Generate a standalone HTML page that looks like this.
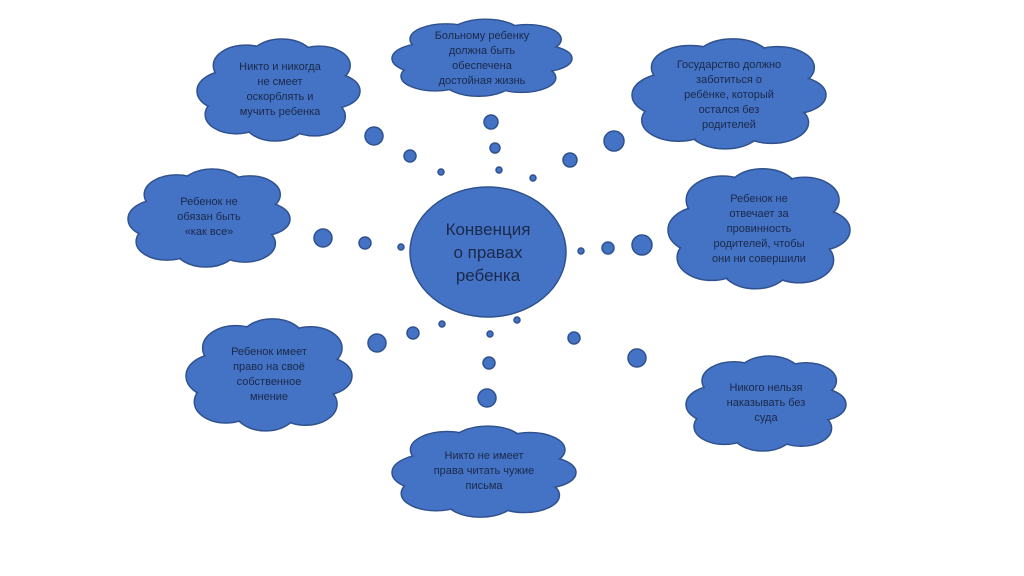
<!DOCTYPE html><html><head><meta charset="utf-8"><style>
body{margin:0;width:1024px;height:576px;background:#fff;position:relative;overflow:hidden;font-family:"Liberation Sans",sans-serif}
svg{position:absolute;left:0;top:0}
.t{position:absolute;text-align:center;color:#1a2a4a;font-size:11px;line-height:15px;display:flex;align-items:center;justify-content:center}
</style></head><body>
<svg width="1024" height="576">
<defs><g id="c">
<g fill="#4472C4" stroke="#2F528F" stroke-width="1.5" vector-effect="non-scaling-stroke">
<circle cx="20" cy="50" r="20" vector-effect="non-scaling-stroke"/><circle cx="30" cy="25" r="20" vector-effect="non-scaling-stroke"/><circle cx="52" cy="19" r="20" vector-effect="non-scaling-stroke"/><circle cx="75" cy="25" r="19" vector-effect="non-scaling-stroke"/><circle cx="83" cy="50" r="17" vector-effect="non-scaling-stroke"/><circle cx="72" cy="75" r="19" vector-effect="non-scaling-stroke"/><circle cx="48" cy="80" r="19" vector-effect="non-scaling-stroke"/><circle cx="24" cy="73" r="19" vector-effect="non-scaling-stroke"/></g>
<g fill="#4472C4"><circle cx="20" cy="50" r="19.2"/><circle cx="30" cy="25" r="19.2"/><circle cx="52" cy="19" r="19.2"/><circle cx="75" cy="25" r="18.2"/><circle cx="83" cy="50" r="16.2"/><circle cx="72" cy="75" r="18.2"/><circle cx="48" cy="80" r="18.2"/><circle cx="24" cy="73" r="18.2"/><ellipse cx="50" cy="50" rx="35" ry="30"/></g>
</g></defs>
<use href="#c" transform="translate(197,40) scale(1.63,1.02)"/>
<use href="#c" transform="translate(392,20) scale(1.8,0.77)"/>
<use href="#c" transform="translate(632,40) scale(1.94,1.1)"/>
<use href="#c" transform="translate(128,170) scale(1.62,0.98)"/>
<use href="#c" transform="translate(668,170) scale(1.82,1.2)"/>
<use href="#c" transform="translate(186,320) scale(1.66,1.12)"/>
<use href="#c" transform="translate(686,357) scale(1.6,0.95)"/>
<use href="#c" transform="translate(392,427) scale(1.84,0.91)"/>
<ellipse cx="488" cy="252" rx="78" ry="65" fill="#4472C4" stroke="#2F528F" stroke-width="1.5"/>
<g fill="#4472C4" stroke="#2F528F" stroke-width="1.5">
<circle cx="374" cy="136" r="9"/><circle cx="410" cy="156" r="6"/><circle cx="441" cy="172" r="3"/>
<circle cx="491" cy="122" r="7"/><circle cx="495" cy="148" r="5"/><circle cx="499" cy="170" r="3"/>
<circle cx="570" cy="160" r="7"/><circle cx="614" cy="141" r="10"/><circle cx="533" cy="178" r="3"/>
<circle cx="323" cy="238" r="9"/><circle cx="365" cy="243" r="6"/><circle cx="401" cy="247" r="3"/>
<circle cx="581" cy="251" r="3"/><circle cx="608" cy="248" r="6"/><circle cx="642" cy="245" r="10"/>
<circle cx="377" cy="343" r="9"/><circle cx="413" cy="333" r="6"/><circle cx="442" cy="324" r="3"/>
<circle cx="490" cy="334" r="3"/><circle cx="489" cy="363" r="6"/><circle cx="487" cy="398" r="9"/>
<circle cx="517" cy="320" r="3"/><circle cx="574" cy="338" r="6"/><circle cx="637" cy="358" r="9"/>
</g></svg>
<div class="t" style="left:200px;top:40px;width:160px;height:100px">Никто и никогда<br>не смеет<br>оскорблять и<br>мучить ребенка</div>
<div class="t" style="left:392px;top:20px;width:180px;height:78px">Больному ребенку<br>должна быть<br>обеспечена<br>достойная жизнь</div>
<div class="t" style="left:632px;top:40px;width:194px;height:110px">Государство должно<br>заботиться о<br>ребёнке, который<br>остался без<br>родителей</div>
<div class="t" style="left:128px;top:170px;width:162px;height:95px">Ребенок не<br>обязан быть<br>«как все»</div>
<div class="t" style="left:668px;top:170px;width:182px;height:118px">Ребенок не<br>отвечает за<br>провинность<br>родителей, чтобы<br>они ни совершили</div>
<div class="t" style="left:186px;top:320px;width:166px;height:110px">Ребенок имеет<br>право на своё<br>собственное<br>мнение</div>
<div class="t" style="left:686px;top:357px;width:160px;height:92px">Никого нельзя<br>наказывать без<br>суда</div>
<div class="t" style="left:392px;top:427px;width:184px;height:88px">Никто не имеет<br>права читать чужие<br>письма</div>
<div class="t" style="left:410px;top:187px;width:156px;height:130px;font-size:17px;line-height:23px">Конвенция<br>о правах<br>ребенка</div>
</body></html>
